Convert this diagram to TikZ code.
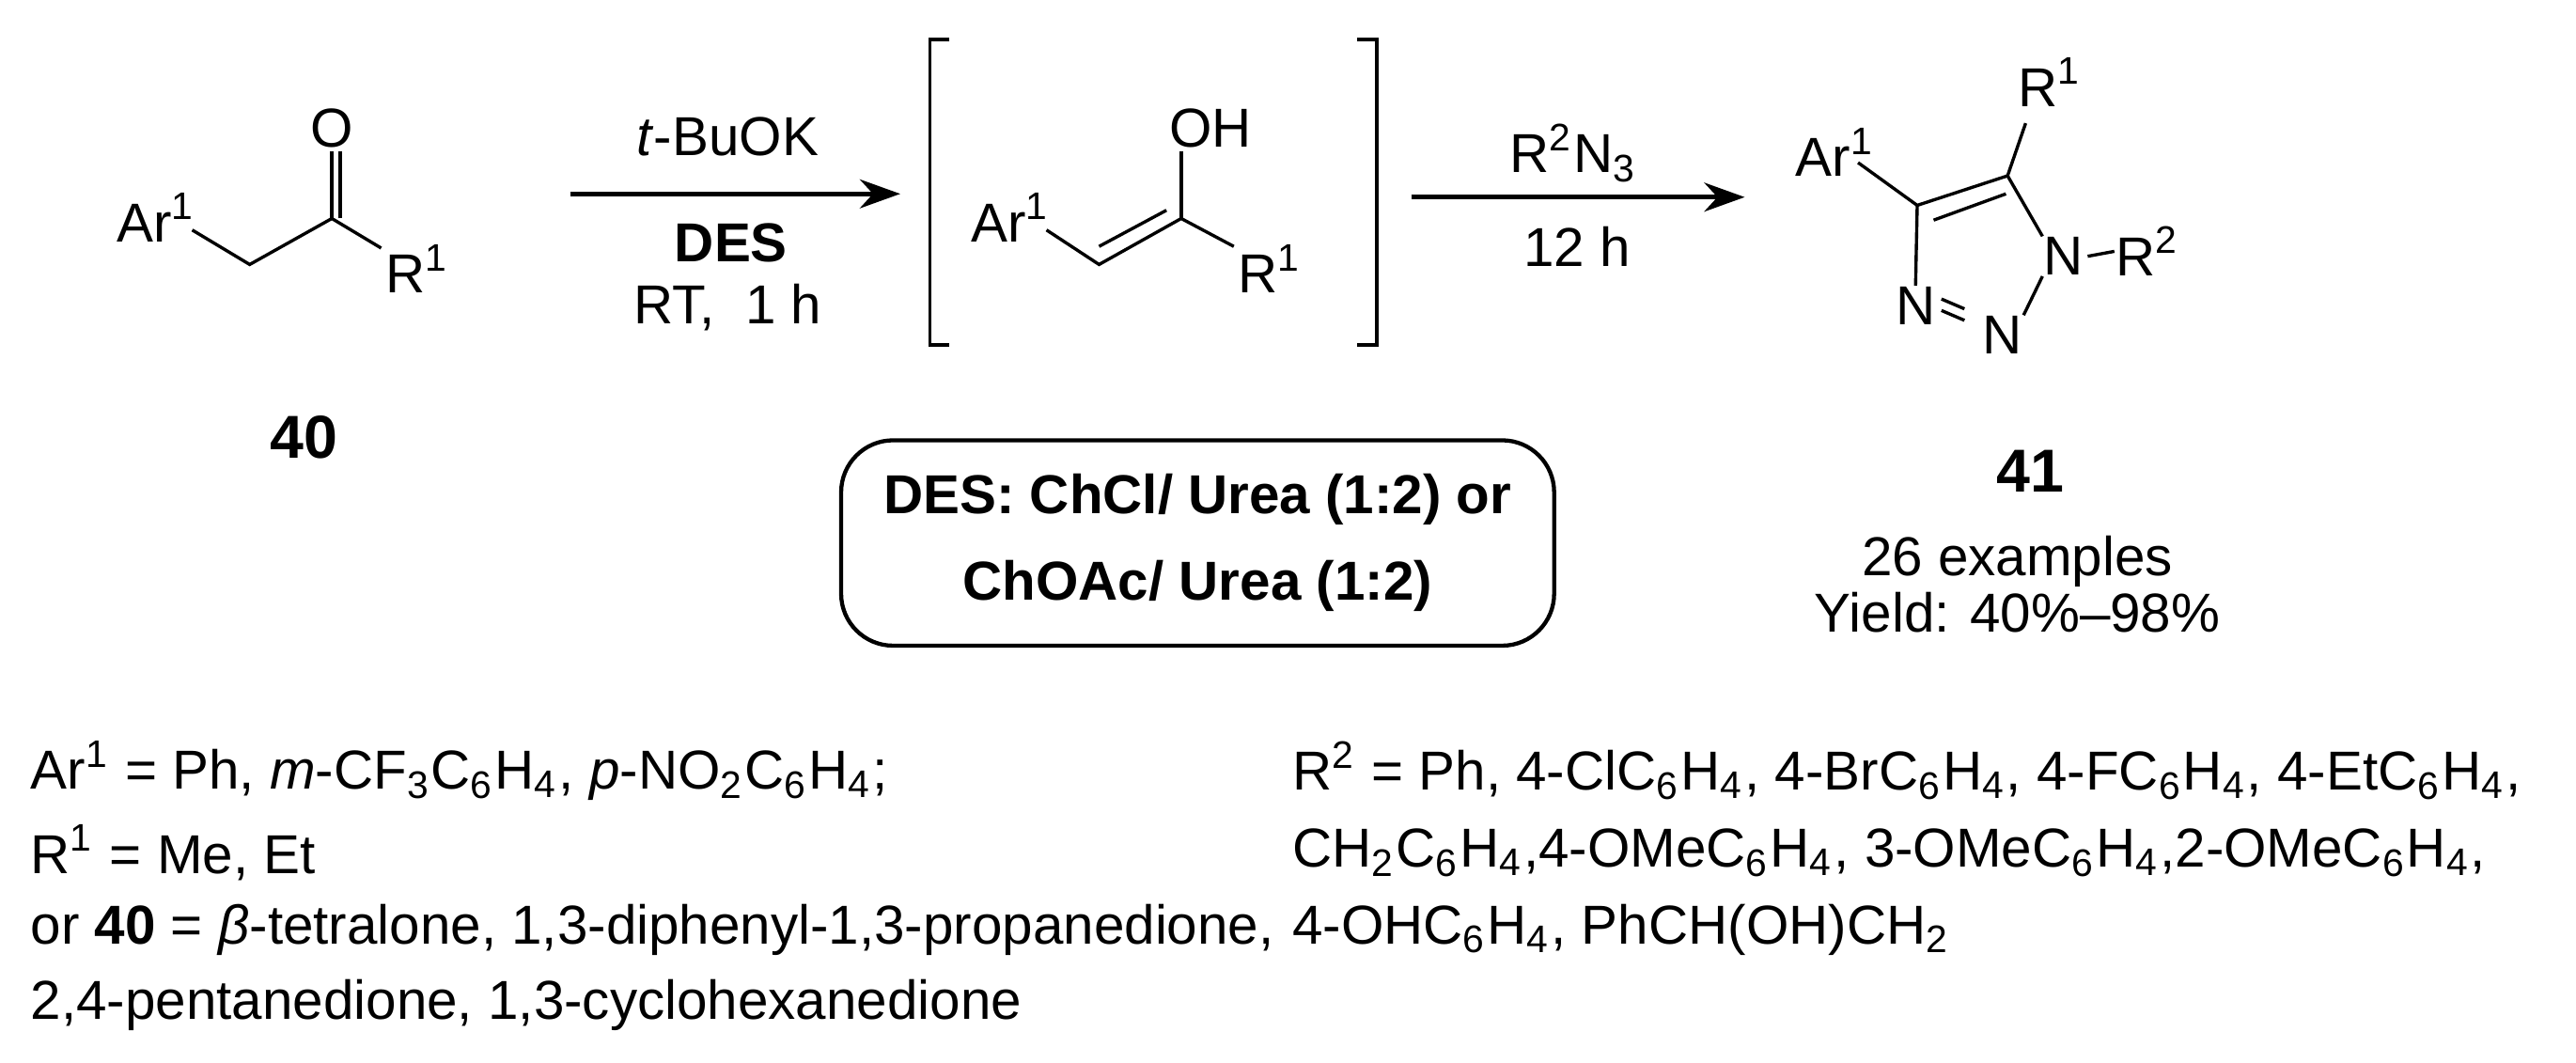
\documentclass[tikz,border=0pt]{standalone}
\usepackage{fontspec}
\setmainfont{Liberation Sans}
\usetikzlibrary{arrows.meta}
\begin{document}
\begin{tikzpicture}[x=0.1mm,y=-0.1mm,
  lbl/.style={inner sep=0pt,font=\fontsize{9.5}{11}\selectfont},
  bond/.style={line width=0.55pt},
  rxn/.style={line width=0.8pt,-{Stealth[length=7pt,width=5pt]}},
  txt/.style={inner sep=0pt,anchor=west,font=\fontsize{9.5}{10}\selectfont}]
\useasboundingbox (0,0) rectangle (1568,647);
% compound 40
\node[lbl,anchor=south east] (a1) at (120,148) {Ar\textsuperscript{1}};
\coordinate (a2) at (152,161);
\coordinate (a3) at (202,133);
\node[lbl] (ao) at (202,78) {O};
\node[lbl,anchor=north west] (ar) at (234,148) {R\textsuperscript{1}};
\draw[bond] (117,140) -- (a2) -- (a3) -- (232,151);
\draw[bond] (a3) -- (202,92);
\draw[bond] (207,133) -- (207,92);
\node[font=\bfseries\fontsize{10.5}{12}\selectfont] (n40) at (185,266) {40};
% arrow 1
\coordinate (s1) at (347,118);
\coordinate (e1) at (548,118);
\draw[rxn] (s1) -- (e1);
\node[lbl] (c1) at (443,83) {\textit{t}-BuOK};
\node[lbl,font=\bfseries\fontsize{9.5}{11}\selectfont] (c2) at (445,148) {DES};
\node[lbl] (c3) at (443,187) {RT,\ \ 1 h};
% brackets
\draw[bond] (578,24) -- (566,24) -- (566,210) -- (578,210);
\draw[bond] (826,24) -- (838,24) -- (838,210) -- (826,210);
% enol
\node[lbl,anchor=south east] (b1) at (640,148) {Ar\textsuperscript{1}};
\coordinate (b2) at (669,161);
\coordinate (b3) at (719,133);
\node[lbl] (bo) at (737,78) {OH};
\node[lbl,anchor=north west] (br) at (753,148) {R\textsuperscript{1}};
\draw[bond] (637,140) -- (b2) -- (b3) -- (751,150);
\draw[bond] (b3) -- (719,92);
\draw[bond] (669,150) -- (710,128);
% arrow 2
\coordinate (s2) at (859,120);
\coordinate (e2) at (1062,120);
\draw[rxn] (s2) -- (e2);
\node[lbl] (d1) at (958,93) {R\textsuperscript{2}N\textsubscript{3}};
\node[lbl] (d2) at (960,150) {12 h};
% triazole 41
\node[lbl,anchor=south east] (t1) at (1142,108) {Ar\textsuperscript{1}};
\coordinate (c4) at (1167,125);
\coordinate (c5) at (1222,107);
\node[lbl] (n1) at (1256,156) {N};
\node[lbl] (n2) at (1219,204) {N};
\node[lbl] (n3) at (1166,186) {N};
\node[lbl] (tr1) at (1248,50) {R\textsuperscript{1}};
\node[lbl,anchor=west] (tr2) at (1287,153) {R\textsuperscript{2}};
\draw[bond] (1131,99) -- (c4) -- (c5) -- (1233,75);
\draw[bond] (1177,134) -- (1221,118);
\draw[bond] (c5) -- (n1.north west);
\draw[bond] (c4) -- (n3.north);
\draw[bond] (n1.south west) -- (n2.north east);
\draw[bond] (n3.east) ++(3,3) -- ++(14,6);
\draw[bond] (n3.east) ++(3,-4) -- ++(14,6);
\draw[bond] (n1.east) ++(2,0) -- (tr2.west);
\node[font=\bfseries\fontsize{10.5}{12}\selectfont] (n41) at (1236,287) {41};
\node[lbl] (ex) at (1228,342) {26 examples};
\node[lbl] (yl) at (1228,373) {Yield: 40\%--98\%};
% box
\node[draw,line width=0.7pt,rounded corners=9pt,minimum width=434*0.1mm,minimum height=125*0.1mm,align=center,
  font=\bfseries\fontsize{9.5}{15}\selectfont] (box) at (729,330.5) {DES: ChCl/ Urea (1:2) or\\ChOAc/ Urea (1:2)};
% bottom text
\node[txt] (l1) at (18,469) {Ar\textsuperscript{1} = Ph, \textit{m}-CF\textsubscript{3}C\textsubscript{6}H\textsubscript{4}, \textit{p}-NO\textsubscript{2}C\textsubscript{6}H\textsubscript{4};};
\node[txt] (l2) at (18,519) {R\textsuperscript{1} = Me, Et};
\node[txt] (l3) at (18,566) {or \textbf{40} = \textit{β}-tetralone, 1,3-diphenyl-1,3-propanedione,};
\node[txt] (l4) at (18,612) {2,4-pentanedione, 1,3-cyclohexanedione};
\node[txt] (r1) at (786,469) {R\textsuperscript{2} = Ph, 4-ClC\textsubscript{6}H\textsubscript{4}, 4-BrC\textsubscript{6}H\textsubscript{4}, 4-FC\textsubscript{6}H\textsubscript{4}, 4-EtC\textsubscript{6}H\textsubscript{4},};
\node[txt] (r2) at (786,519) {CH\textsubscript{2}C\textsubscript{6}H\textsubscript{4},4-OMeC\textsubscript{6}H\textsubscript{4}, 3-OMeC\textsubscript{6}H\textsubscript{4},2-OMeC\textsubscript{6}H\textsubscript{4},};
\node[txt] (r3) at (786,566) {4-OHC\textsubscript{6}H\textsubscript{4}, PhCH(OH)CH\textsubscript{2}};
\end{tikzpicture}
\end{document}
